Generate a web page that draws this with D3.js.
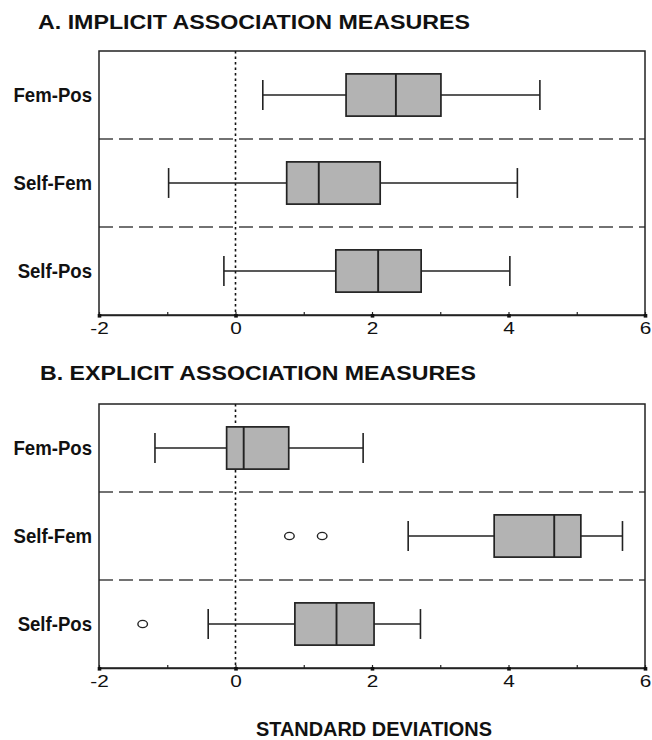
<!DOCTYPE html>
<html>
<head>
<meta charset="utf-8">
<script src="https://cdn.jsdelivr.net/npm/d3@7"></script>
<style>
  body { margin: 0; background: #fff; }
  svg { display: block; }
</style>
</head>
<body>
<div id="chart"></div>
<script>
const W = 652;
const H = 740;

const categories = ["Fem-Pos", "Self-Fem", "Self-Pos"];

// [low whisker, q1, median, q3, high whisker]
const implicitStats = [
  [0.40, 1.62, 2.35, 3.01, 4.46],
  [-0.98, 0.75, 1.22, 2.12, 4.13],
  [-0.17, 1.47, 2.09, 2.72, 4.02],
];
const implicitOutliers = [[], [], []];

const explicitStats = [
  [-1.18, -0.13, 0.12, 0.78, 1.87],
  [2.53, 3.79, 4.67, 5.06, 5.67],
  [-0.40, 0.87, 1.48, 2.03, 2.71],
];
const explicitOutliers = [[], [0.79, 1.27], [-1.36]];

const tickValues = [-2, -1, 0, 1, 2, 3, 4, 5, 6];
const tickLabels = ["-2", "", "0", "", "2", "", "4", "", "6"];

const panelTitles = ["A. IMPLICIT ASSOCIATION MEASURES", "B. EXPLICIT ASSOCIATION MEASURES"];
const xTitle = "STANDARD DEVIATIONS";

const LEFT = 99, RIGHT = 645;
const FONT = "'Liberation Sans', Arial, Helvetica, sans-serif";

const svg = d3.select("#chart").append("svg")
  .attr("width", W)
  .attr("height", H);

const x = d3.scaleLinear().domain([-2, 6]).range([LEFT, RIGHT]);

function drawPanel(opts) {
  const { top, bottom, title, titleX, titleY, titleLen, stats, outliers } = opts;
  const g = svg.append("g");

  g.append("text")
    .attr("x", titleX)
    .attr("y", titleY)
    .attr("font-family", FONT)
    .attr("font-weight", "bold")
    .attr("font-size", 21)
    .attr("textLength", titleLen)
    .attr("lengthAdjust", "spacingAndGlyphs")
    .attr("fill", "#111")
    .text(title);

  const y = d3.scaleBand().domain(categories).range([top, bottom]);
  const bw = y.bandwidth();

  // separators between categories
  g.selectAll(".sep")
    .data(categories.slice(1))
    .join("line")
    .attr("x1", LEFT).attr("x2", RIGHT)
    .attr("y1", d => y(d)).attr("y2", d => y(d))
    .attr("stroke", "#444")
    .attr("stroke-width", 1.6)
    .attr("stroke-dasharray", "14,6");

  // zero reference line
  g.append("line")
    .attr("x1", x(0)).attr("x2", x(0))
    .attr("y1", top).attr("y2", bottom)
    .attr("stroke", "#111")
    .attr("stroke-width", 1.6)
    .attr("stroke-dasharray", "2.5,3");

  // category labels (slightly condensed bold)
  g.selectAll(".cat")
    .data(categories)
    .join("text")
    .attr("transform", d => `translate(${LEFT - 7},${y(d) + bw / 2}) scale(0.93,1)`)
    .attr("dy", "0.36em")
    .attr("text-anchor", "end")
    .attr("font-family", FONT)
    .attr("font-weight", "bold")
    .attr("font-size", 20)
    .attr("fill", "#111")
    .text(d => d);

  const boxes = g.selectAll(".box")
    .data(categories.map((c, i) => ({ c, s: stats[i], o: outliers[i] })))
    .join("g");

  const boxH = bw * 0.48;
  const capH = bw * 0.34;

  boxes.append("line")
    .attr("x1", d => x(d.s[0])).attr("x2", d => x(d.s[4]))
    .attr("y1", d => y(d.c) + bw / 2).attr("y2", d => y(d.c) + bw / 2)
    .attr("stroke", "#222").attr("stroke-width", 1.4);

  boxes.selectAll(".cap")
    .data(d => [d.s[0], d.s[4]].map(v => ({ v, c: d.c })))
    .join("line")
    .attr("x1", d => x(d.v)).attr("x2", d => x(d.v))
    .attr("y1", d => y(d.c) + bw / 2 - capH / 2)
    .attr("y2", d => y(d.c) + bw / 2 + capH / 2)
    .attr("stroke", "#222").attr("stroke-width", 1.6);

  boxes.append("rect")
    .attr("x", d => x(d.s[1]))
    .attr("width", d => x(d.s[3]) - x(d.s[1]))
    .attr("y", d => y(d.c) + bw / 2 - boxH / 2)
    .attr("height", boxH)
    .attr("fill", "#b3b3b3")
    .attr("stroke", "#222")
    .attr("stroke-width", 1.7);

  boxes.append("line")
    .attr("x1", d => x(d.s[2])).attr("x2", d => x(d.s[2]))
    .attr("y1", d => y(d.c) + bw / 2 - boxH / 2)
    .attr("y2", d => y(d.c) + bw / 2 + boxH / 2)
    .attr("stroke", "#222").attr("stroke-width", 1.9);

  boxes.selectAll(".out")
    .data(d => d.o.map(v => ({ v, c: d.c })))
    .join("ellipse")
    .attr("cx", d => x(d.v))
    .attr("cy", d => y(d.c) + bw / 2)
    .attr("rx", 4.8).attr("ry", 3.6)
    .attr("fill", "none")
    .attr("stroke", "#222")
    .attr("stroke-width", 1.4);

  // frame
  g.append("rect")
    .attr("x", LEFT).attr("y", top)
    .attr("width", RIGHT - LEFT).attr("height", bottom - top)
    .attr("fill", "none")
    .attr("stroke", "#222")
    .attr("stroke-width", 1.5);

  // x axis
  const axis = d3.axisBottom(x)
    .tickValues(tickValues)
    .tickSizeInner(-3)
    .tickSizeOuter(0)
    .tickPadding(8)
    .tickFormat((d, i) => tickLabels[i]);

  const ax = g.append("g")
    .attr("transform", `translate(0,${bottom})`)
    .call(axis);
  ax.select(".domain").attr("stroke", "#222").attr("stroke-width", 1.5);
  ax.selectAll(".tick line").attr("stroke", "#222").attr("stroke-width", 1.2);
  ax.selectAll(".tick")
    .filter(d => d % 2 === 0)
    .append("rect")
    .attr("x", -1.8).attr("y", -1)
    .attr("width", 3.6).attr("height", 3.6)
    .attr("fill", "#111");
  ax.selectAll(".tick text")
    .attr("font-family", FONT)
    .attr("font-size", 16)
    .attr("fill", "#111")
    .attr("transform", "scale(1.3,1)");
}

drawPanel({
  top: 51, bottom: 315,
  title: panelTitles[0], titleX: 38, titleY: 29, titleLen: 432,
  stats: implicitStats, outliers: implicitOutliers,
});

drawPanel({
  top: 404, bottom: 668,
  title: panelTitles[1], titleX: 40, titleY: 380, titleLen: 436,
  stats: explicitStats, outliers: explicitOutliers,
});

svg.append("text")
  .attr("x", 256)
  .attr("y", 736)
  .attr("font-family", FONT)
  .attr("font-weight", "bold")
  .attr("font-size", 19.5)
  .attr("textLength", 236)
  .attr("lengthAdjust", "spacingAndGlyphs")
  .attr("fill", "#111")
  .text(xTitle);
</script>
</body>
</html>
